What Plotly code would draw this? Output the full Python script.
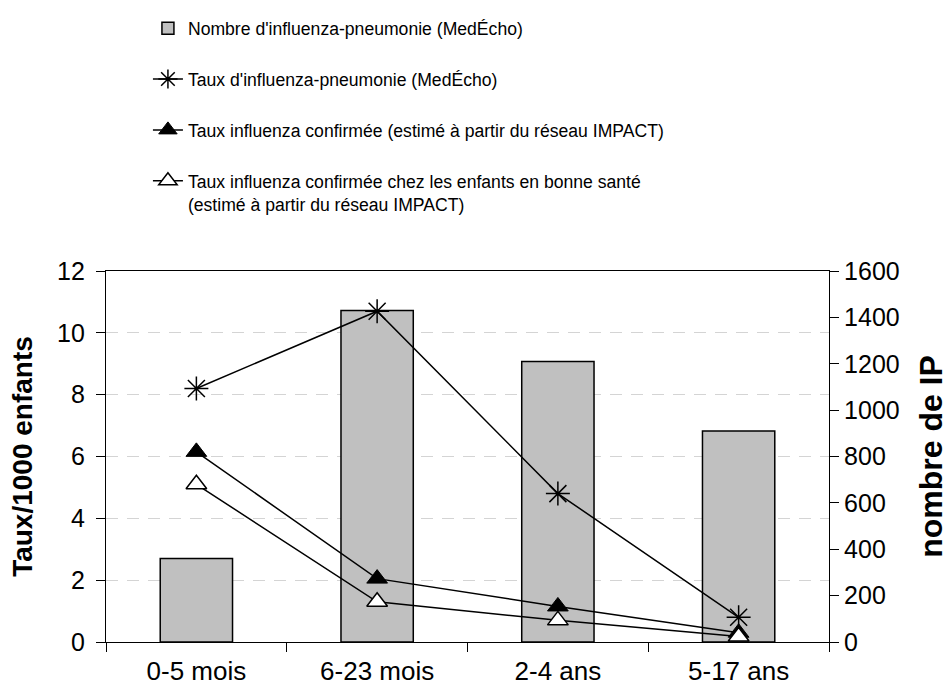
import plotly.graph_objects as go

categories = ["0-5 mois", "6-23 mois", "2-4 ans", "5-17 ans"]
nombre_ip = [360, 1430, 1210, 910]
taux_ip = [8.2, 10.7, 4.8, 0.8]
taux_confirmee = [6.15, 2.05, 1.15, 0.3]
taux_sante = [5.1, 1.3, 0.7, 0.18]

names = [
    "Nombre d'influenza-pneumonie (MedÉcho)",
    "Taux d'influenza-pneumonie (MedÉcho)",
    "Taux influenza confirmée (estimé à partir du réseau IMPACT)",
    "Taux influenza confirmée chez les enfants en bonne santé<br>(estimé à partir du réseau IMPACT)",
]

FONT = "Liberation Sans, Arial, sans-serif"

fig = go.Figure()
fig.add_trace(go.Bar(
    x=categories, y=nombre_ip, name=names[0], yaxis="y",
    marker=dict(color="#c0c0c0", line=dict(color="black", width=1.5)),
    width=0.4, legendgroup="a",
))
fig.add_trace(go.Scatter(
    x=categories, y=taux_ip, name=names[1], yaxis="y2", mode="lines+markers",
    line=dict(color="black", width=1.5),
    marker=dict(symbol="asterisk-open", size=20, color="black", line=dict(color="black", width=1.5)),
    legendgroup="b",
))
fig.add_trace(go.Scatter(
    x=categories, y=taux_confirmee, name=names[2], yaxis="y2", mode="lines+markers",
    line=dict(color="black", width=1.5),
    marker=dict(symbol="triangle-up", size=18, color="black", line=dict(color="black", width=1)),
    legendgroup="c",
))
fig.add_trace(go.Scatter(
    x=categories, y=taux_sante, name=names[3], yaxis="y2", mode="lines+markers",
    line=dict(color="black", width=1.5),
    marker=dict(symbol="triangle-up", size=18, color="white", line=dict(color="black", width=1.5)),
    legendgroup="d",
))

fig.update_layout(
    width=949, height=696,
    margin=dict(l=106, r=120, t=271, b=54, autoexpand=False),
    paper_bgcolor="white", plot_bgcolor="white",
    font=dict(family=FONT, color="black", size=24),
    showlegend=True,
    legend=dict(
        xref="paper", yref="paper", x=0.058, y=1.703, xanchor="left", yanchor="top",
        font=dict(family=FONT, size=17.6, color="black"),
        tracegroupgap=25, traceorder="grouped", valign="top",
        bgcolor="rgba(0,0,0,0)",
    ),
    xaxis=dict(
        type="category", showline=True, linecolor="black", linewidth=1.2, mirror=True,
        ticks="outside", tickson="boundaries", ticklen=9, tickcolor="black",
        showgrid=False, tickfont=dict(size=26), tickangle=0, ticklabelstandoff=6,
    ),
    yaxis=dict(
        side="right", range=[0, 1600], tickvals=[0, 200, 400, 600, 800, 1000, 1200, 1400, 1600],
        showline=True, linecolor="black", linewidth=1.2, ticks="outside", ticklen=9,
        tickcolor="black", showgrid=False, zeroline=False, tickfont=dict(size=25),
        title=dict(text="<b>nombre de IP</b>", font=dict(size=32), standoff=22),
    ),
    yaxis2=dict(
        side="left", overlaying="y", range=[0, 12], tickvals=[0, 2, 4, 6, 8, 10, 12],
        showline=True, linecolor="black", linewidth=1.2, ticks="outside", ticklen=9,
        tickcolor="black", showgrid=True, gridcolor="#d4d4d4", griddash="12px,9px",
        gridwidth=1.2, zeroline=False, tickfont=dict(size=25), ticklabelstandoff=6,
        title=dict(text="<b>Taux/1000 enfants</b>", font=dict(size=28), standoff=16),
    ),
    bargap=0.6,
)

fig.write_html(
    "out.html",
    config={"displayModeBar": False},
    post_script="document.body.style.margin='0';document.body.style.overflow='hidden';",
)
